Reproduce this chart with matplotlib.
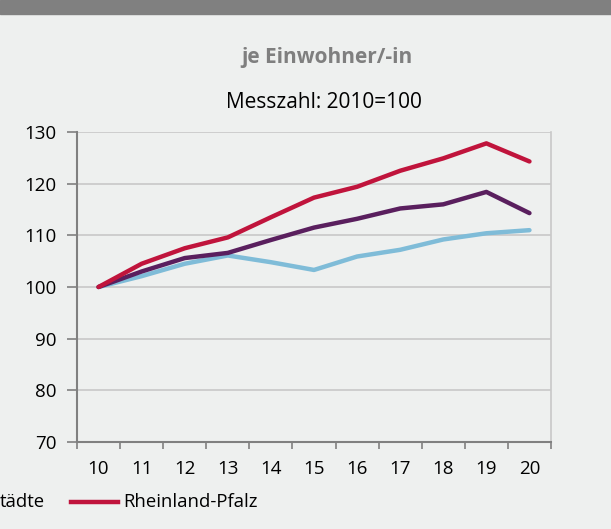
import numpy as np
import matplotlib.pyplot as plt
from matplotlib.lines import Line2D

# Jahre (2010 = 100)
years = ['10', '11', '12', '13', '14', '15', '16', '17', '18', '19', '20']
rlp = [100, 104.5, 107.5, 109.6, 113.5, 117.3, 119.4, 122.5, 124.9, 127.8, 124.3]
landkreise = [100, 103.0, 105.6, 106.6, 109.1, 111.5, 113.2, 115.2, 116.0, 118.4, 114.3]
staedte = [100, 102.1, 104.5, 106.1, 104.8, 103.3, 105.9, 107.2, 109.2, 110.4, 111.0]

bg = '#eef0ef'
red = '#c0143c'
purple = '#5a1f5e'
blue = '#7fbcd8'
grid = '#c8c8c8'
axgray = '#808080'

plt.rcParams['font.family'] = ['Open Sans', 'DejaVu Sans']

fig = plt.figure(figsize=(6.11, 5.29), dpi=100, facecolor=bg)
ax = fig.add_axes([77/611, 1-442/529, (551-77)/611, (442-132)/529])
ax.set_facecolor(bg)

x = np.arange(len(years))
ax.plot(x, staedte, color=blue, lw=3.2, solid_capstyle='round', zorder=3)
ax.plot(x, landkreise, color=purple, lw=3.2, solid_capstyle='round', zorder=4)
ax.plot(x, rlp, color=red, lw=3.2, solid_capstyle='round', zorder=5)

ax.set_xlim(-0.5, len(years) - 0.5)
ax.set_ylim(70, 130)
ax.set_yticks(range(70, 131, 10))
ax.yaxis.grid(True, color=grid, lw=1.2)
ax.set_axisbelow(True)

ax.set_xticks(x)
ax.set_xticklabels(years)
ax.set_xticks(np.arange(-0.5, len(years)), minor=True)
ax.tick_params(axis='x', which='major', length=0, pad=13, labelsize=13.5, colors='black')
ax.tick_params(axis='x', which='minor', length=5, width=1.2, color=axgray)
ax.tick_params(axis='y', length=7, width=1.2, color=axgray, pad=8, labelsize=13.5)

for s in ['left', 'bottom']:
    ax.spines[s].set_color(axgray)
    ax.spines[s].set_linewidth(1.5)
ax.spines['top'].set_visible(False)
ax.spines['right'].set_color(grid)
ax.spines['right'].set_linewidth(1.2)

# grauer Balken oben
fig.patches.append(plt.Rectangle((0, 1-14/529), 1, 14/529, transform=fig.transFigure,
                                 color='#808080', zorder=0))

fig.text(327/611, 1-58/529, 'je Einwohner/-in', ha='center', va='center',
         fontsize=15, fontweight='bold', color='#7f7f7f')
fig.text(324/611, 1-103/529, 'Messzahl: 2010=100', ha='center', va='center',
         fontsize=15, color='black')

# Legende (im Original links abgeschnitten)
fig.text(0, 1-502/529, 'tädte', ha='left', va='center', fontsize=13.3)
fig.add_artist(Line2D([71/611, 118/611], [1-502/529, 1-502/529], color=red, lw=3.2,
                      transform=fig.transFigure))
fig.text(123/611, 1-502/529, 'Rheinland-Pfalz', ha='left', va='center', fontsize=13.3)

fig.savefig('out.png', dpi=100, facecolor=bg)
